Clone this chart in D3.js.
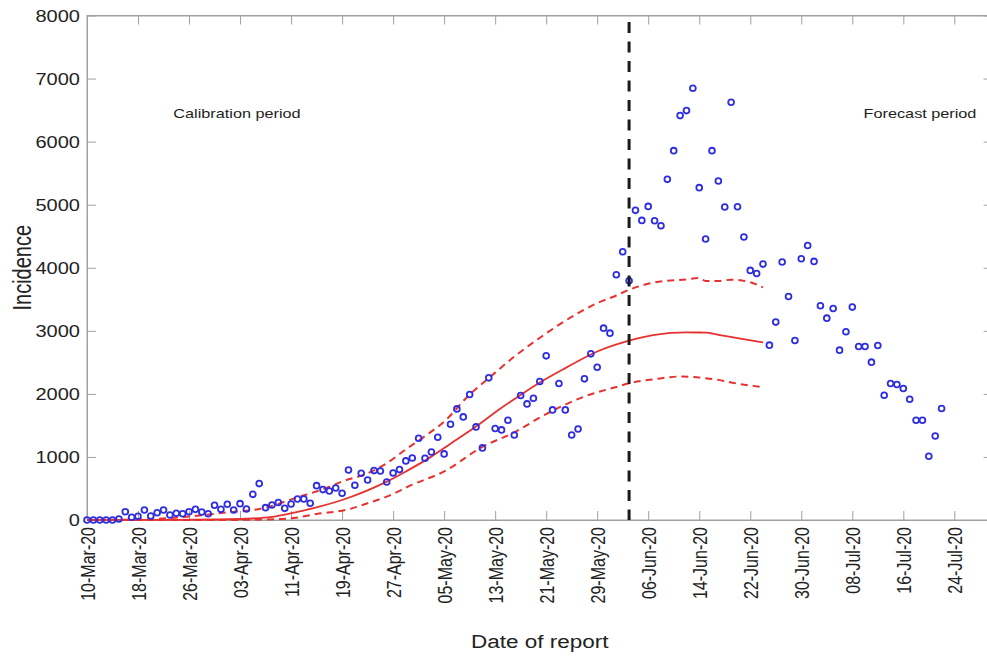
<!DOCTYPE html>
<html><head><meta charset="utf-8">
<script src="https://cdn.jsdelivr.net/npm/d3@7"></script>
<style>
html,body{margin:0;padding:0;background:#fff;}
svg{display:block;font-family:"Liberation Sans",Arial,Helvetica,sans-serif;}
</style></head>
<body>
<svg id="chart" width="987" height="656"></svg>
<script>
// ---- data ----
const startDate = "2020-03-10";
const observed = [0,0,0,0,0,15,132,43,59,159,63,116,159,80,106,100,132,169,127,100,
233,169,249,159,259,175,407,577,196,238,278,185,254,333,333,265,545,482,460,508,
423,794,550,741,635,783,778,603,746,799,937,984,1296,979,1079,1312,1048,1519,1762,1635,
1989,1476,1143,2254,1450,1429,1582,1349,1974,1841,1931,2196,2603,1746,2164,1746,1349,1444,2238,2635,
2423,3042,2963,3889,4254,3794,4910,4751,4973,4746,4667,5402,5857,6413,6492,6846,5270,4455,5857,5376,
4963,6624,4968,4487,3958,3910,4058,2773,3138,4090,3545,2847,4143,4354,4101,3397,3201,3354,2693,2984,
3376,2751,2751,2503,2767,1979,2164,2148,2085,1915,1582,1582,1011,1333,1767];

const medianDays = [0,14,20,25,29,33,36,40,44,47,50,54,57,61,65,68,71,75,80,85,89,94,97,99,102,106];
const medianVals = [0,3,8,20,50,130,200,317,470,608,770,1005,1210,1481,1780,1984,2180,2408,2672,2845,2937,2974,2972,2935,2884,2815];

const upperDays = [0,10,16,21,28,33,37,40,44,47,50,53,56,60,63,67,72,77,80,83,85,89,94,96,97,99,101,104,106];
const upperVals = [0,15,55,110,195,360,487,610,741,900,1120,1330,1560,1990,2250,2590,2960,3280,3440,3560,3651,3767,3815,3836,3790,3790,3810,3770,3688];

const lowerDays = [0,20,28,32,36,41,44,47,51,56,62,67,72,78,83,85,89,93,97,99,101,106];
const lowerVals = [0,0,8,27,95,169,265,370,560,770,1160,1390,1680,1958,2110,2169,2233,2275,2249,2222,2180,2106];

const xTickEvery = 8;          // days between date ticks
const xTickCount = 18;         // 10-Mar-20 ... 24-Jul-20
const yTicks = [0,1000,2000,3000,4000,5000,6000,7000,8000];
const splitDate = "2020-06-03";
const texts = {xLabel:"Date of report", yLabel:"Incidence", left:"Calibration period", right:"Forecast period"};

// ---- setup ----
const parse = d3.utcParse("%Y-%m-%d");
const t0 = parse(startDate);
const dayToDate = d => d3.utcDay.offset(t0, d);

const svg = d3.select("#chart");
const x = d3.scaleUtc().domain([t0, parse("2020-07-30")]).range([87, 992.6]);
const y = d3.scaleLinear().domain([0, 8000]).range([520, 15.5]);
const axisColor = "#a0a0a0", textColor = "#222";
const red = "#e8312f", blue = "#2e2ee0";

const xTicks = d3.range(xTickCount).map(i => dayToDate(i * xTickEvery));
const fmt = d3.utcFormat("%d-%b-%y");

// frame
svg.append("rect").attr("x", x.range()[0]).attr("y", y(8000))
  .attr("width", x.range()[1]-x.range()[0]).attr("height", y(0)-y(8000))
  .attr("fill", "none").attr("stroke", axisColor).attr("stroke-width", 1);

// bottom axis
const gx = svg.append("g").attr("transform", `translate(0,${y(0)})`)
  .call(d3.axisBottom(x).tickValues(xTicks).tickFormat(fmt).tickSizeInner(-9).tickSizeOuter(0));
// top axis
const gxt = svg.append("g").attr("transform", `translate(0,${y(8000)})`)
  .call(d3.axisTop(x).tickValues(xTicks).tickFormat("").tickSizeInner(-9).tickSizeOuter(0));
// left axis
const gy = svg.append("g").attr("transform", `translate(${x.range()[0]},0)`)
  .call(d3.axisLeft(y).tickValues(yTicks).tickFormat(d3.format("d")).tickSizeInner(-9).tickSizeOuter(0));
// right axis
const gyr = svg.append("g").attr("transform", `translate(${x.range()[1]},0)`)
  .call(d3.axisRight(y).tickValues(yTicks).tickFormat("").tickSizeInner(-9).tickSizeOuter(0));

[gx,gxt,gy,gyr].forEach(g => {
  g.select(".domain").attr("stroke", axisColor);
  g.selectAll(".tick line").attr("stroke", axisColor);
});

gx.selectAll(".tick text")
  .attr("x", 0).attr("y", 0).attr("dy", "0.36em")
  .attr("text-anchor", "end")
  .attr("transform", "translate(0,7) scale(1.3,1) rotate(-90)")
  .attr("font-size", 16).attr("fill", textColor)
  .attr("font-family", "'Liberation Sans', Arial, sans-serif");

gy.selectAll(".tick text")
  .attr("x", 0).attr("dy", "0.36em")
  .attr("text-anchor", "end")
  .attr("transform", "translate(-7,0) scale(1.25,1)")
  .attr("font-size", 16).attr("fill", textColor)
  .attr("font-family", "'Liberation Sans', Arial, sans-serif");

// axis labels
svg.append("text").text(texts.xLabel)
  .attr("transform", `translate(${(x.range()[0]+x.range()[1])/2},648) scale(1.25,1)`)
  .attr("text-anchor", "middle").attr("font-size", 18).attr("fill", textColor);
svg.append("text").text(texts.yLabel)
  .attr("transform", `translate(31,${(y(0)+y(8000))/2}) scale(1.25,1) rotate(-90)`)
  .attr("text-anchor", "middle").attr("font-size", 20).attr("fill", textColor);

// period labels
svg.append("text").text(texts.left)
  .attr("transform", "translate(237,117.5) scale(1.25,1)")
  .attr("text-anchor", "middle").attr("font-size", 13).attr("fill", "#1e1e1e");
svg.append("text").text(texts.right)
  .attr("transform", "translate(920,117.5) scale(1.25,1)")
  .attr("text-anchor", "middle").attr("font-size", 13).attr("fill", "#1e1e1e");

// fit curves
const line = d3.line().x(d => x(dayToDate(d[0]))).y(d => y(d[1])).curve(d3.curveMonotoneX);
const zip = (a,b) => a.map((d,i) => [d, b[i]]);
svg.append("path").datum(zip(upperDays, upperVals)).attr("d", line)
  .attr("fill","none").attr("stroke", red).attr("stroke-width", 2).attr("stroke-dasharray","7,5");
svg.append("path").datum(zip(lowerDays, lowerVals)).attr("d", line)
  .attr("fill","none").attr("stroke", red).attr("stroke-width", 2).attr("stroke-dasharray","7,5");
svg.append("path").datum(zip(medianDays, medianVals)).attr("d", line)
  .attr("fill","none").attr("stroke", red).attr("stroke-width", 1.8);

// observed points
svg.append("g").selectAll("circle").data(observed).join("circle")
  .attr("cx", (d,i) => x(dayToDate(i))).attr("cy", d => y(d)).attr("r", 2.9)
  .attr("fill", "none").attr("stroke", blue).attr("stroke-width", 1.8);

// split line
const xs = x(parse(splitDate));
svg.append("line").attr("x1", xs).attr("x2", xs).attr("y1", 22).attr("y2", y(0))
  .attr("stroke", "#1a1a1a").attr("stroke-width", 3).attr("stroke-dasharray", "11,8.5");
</script>
</body></html>
